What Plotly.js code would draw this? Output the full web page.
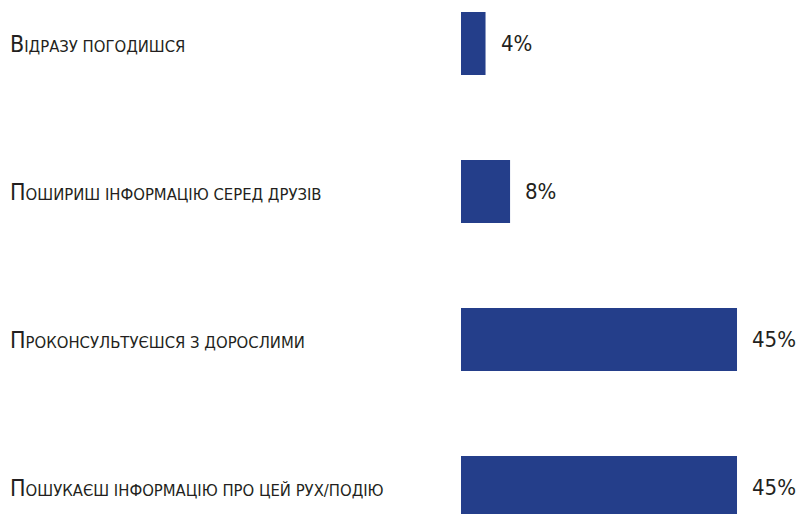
<!DOCTYPE html>
<html>
<head>
<meta charset="utf-8">
<script src="https://cdn.plot.ly/plotly-3.0.1.min.js"></script>
<style>html,body{margin:0;padding:0;background:#fff;}#chart{width:800px;height:514px;}</style>
</head>
<body>
<div id="chart"></div>
<script>
const categories = [
  "Відразу погодишся",
  "Пошириш інформацію серед друзів",
  "Проконсультуєшся з дорослими",
  "Пошукаєш інформацію про цей рух/подію"
];
const values = [4, 8, 45, 45];
const valueLabels = ["4%", "8%", "45%", "45%"];

const FONT = '"Liberation Sans Narrow", "DejaVu Sans Condensed", "Liberation Sans", sans-serif';
const TEXT = '#231f20';
const BAR = '#243e8a';

const idx = categories.map((c, i) => i);

function smallCaps(s) {
  return s.charAt(0) + '<span style="font-size:16.5px">' + s.slice(1).toUpperCase() + '</span>';
}

const annotations = [];
categories.forEach((c, i) => {
  annotations.push({
    xref: 'paper', yref: 'y', x: 0, y: i, xanchor: 'left', yanchor: 'middle',
    xshift: -453, showarrow: false, text: smallCaps(c),
    font: {family: FONT, size: 23, color: TEXT}
  });
  annotations.push({
    xref: 'x', yref: 'y', x: values[i], y: i, xanchor: 'left', yanchor: 'middle',
    xshift: 13, showarrow: false, text: valueLabels[i],
    font: {family: FONT, size: 22, color: TEXT}
  });
});

const trace = {
  type: 'bar', orientation: 'h',
  x: values, y: idx,
  width: 0.425,
  marker: {color: BAR, line: {width: 0}},
  hoverinfo: 'none'
};

const layout = {
  width: 800, height: 514,
  margin: {l: 461, r: 0, t: 0, b: 0, pad: 0},
  paper_bgcolor: '#fff', plot_bgcolor: '#fff',
  showlegend: false,
  xaxis: {range: [0, 55.27], visible: false, fixedrange: true},
  yaxis: {range: [3.179, -0.294], visible: false, fixedrange: true},
  annotations: annotations
};

Plotly.newPlot('chart', [trace], layout, {displayModeBar: false, staticPlot: true});
</script>
</body>
</html>
